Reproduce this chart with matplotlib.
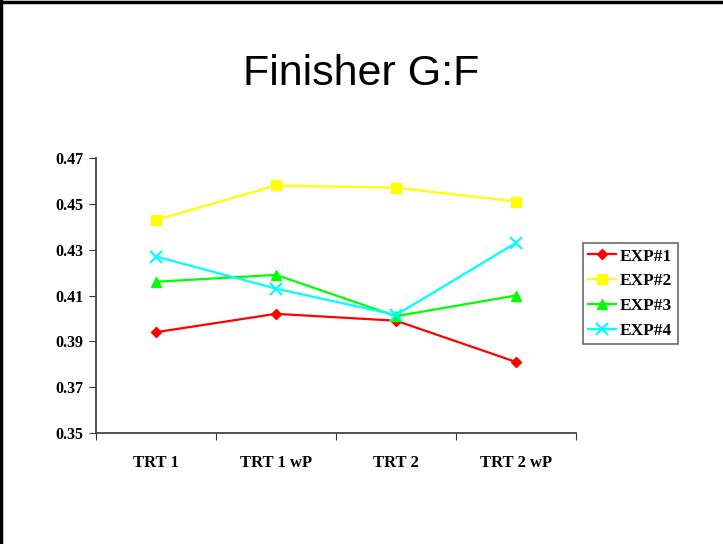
import matplotlib
matplotlib.use("Agg")
import matplotlib.pyplot as plt
from matplotlib.lines import Line2D

categories = ["TRT 1", "TRT 1 wP", "TRT 2", "TRT 2 wP"]
exp1 = [0.394, 0.402, 0.399, 0.381]
exp2 = [0.443, 0.458, 0.457, 0.451]
exp3 = [0.416, 0.419, 0.401, 0.410]
exp4 = [0.427, 0.413, 0.4015, 0.433]
series_names = ["EXP#1", "EXP#2", "EXP#3", "EXP#4"]
y_ticks = [0.35, 0.37, 0.39, 0.41, 0.43, 0.45, 0.47]

colors = ["#ff0000", "#ffff00", "#00ff00", "#00ffff"]
markers = ["D", "s", "^", "x"]
msizes = [5.5, 7, 7, 8]

serif_bold = dict(family="Liberation Serif", weight="bold")

fig = plt.figure(figsize=(7.23, 5.44), dpi=100)
ax = fig.add_axes([0.1328, 0.204, 0.664, 0.5056])

x = list(range(len(categories)))
for vals, name, c, m, ms in zip([exp1, exp2, exp3, exp4], series_names, colors, markers, msizes):
    ax.plot(x, vals, color=c, marker=m, markersize=ms, linewidth=1.6,
            markeredgewidth=1.5 if m == "x" else 1, label=name)

ax.set_xlim(-0.5, 3.5)
ax.set_ylim(0.35, 0.47)
ax.set_yticks(y_ticks)
ax.set_yticklabels(["%.2f" % v for v in y_ticks], fontdict=dict(size=11.5, **serif_bold))

# ticks on the category boundaries, labels on the categories
ax.set_xticks([-0.5, 0.5, 1.5, 2.5, 3.5])
ax.set_xticklabels([])
ax.set_xticks(x, minor=True)
ax.set_xticklabels(categories, minor=True, fontdict=dict(size=12, **serif_bold))
ax.tick_params(axis="x", which="minor", length=0, pad=16)
ax.tick_params(axis="x", which="major", length=5, direction="out", color="#333333")
ax.tick_params(axis="y", length=5, direction="out", color="#333333", pad=4)

for s in ["top", "right"]:
    ax.spines[s].set_visible(False)
for s in ["left", "bottom"]:
    ax.spines[s].set_color("#444444")
    ax.spines[s].set_linewidth(1.3)

fig.text(0.5, 0.864, "Finisher G:F", ha="center", va="center",
         family="Liberation Sans", fontsize=31)

leg = fig.legend(loc="upper left", bbox_to_anchor=(0.806, 0.553),
                 prop=dict(size=12.5, **serif_bold), frameon=True, fancybox=False,
                 handlelength=1.6, handletextpad=0.25, borderpad=0.3,
                 labelspacing=0.5, borderaxespad=0)
leg.get_frame().set_edgecolor("#444444")
leg.get_frame().set_linewidth(1.2)

# slide frame lines (top and left)
fig.add_artist(Line2D([0.002, 0.002], [0, 0.998], transform=fig.transFigure, color="black", linewidth=2.5))
fig.add_artist(Line2D([0, 1], [0.996, 0.996], transform=fig.transFigure, color="black", linewidth=2.5))

fig.savefig("out.png", dpi=100)
